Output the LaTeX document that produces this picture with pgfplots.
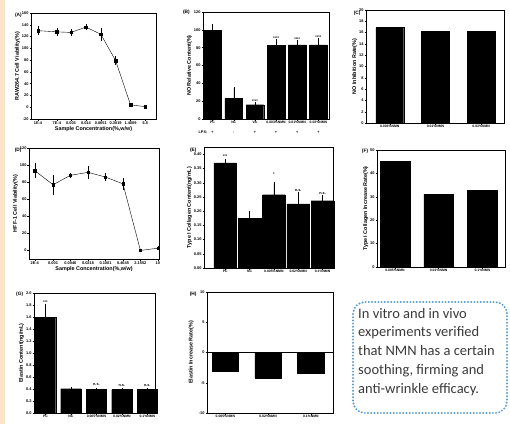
\documentclass[border=0pt]{standalone}
\usepackage{fontspec}
\setmainfont{Liberation Sans}
\newfontfamily\calibri{Carlito}
\usepackage{pgfplots}
\pgfplotsset{compat=1.18}
\definecolor{peach}{HTML}{FBE4C9}
\definecolor{boxblue}{HTML}{5B9BD5}
\definecolor{boxtext}{HTML}{3A3A3A}

\pgfplotsset{
  panel/.style={
    scale only axis, anchor=north west, clip=false,
    axis line style={line width=0.5pt, black},
    tick style={line width=0.4pt, black},
    major tick length=1.5pt, minor tick length=0.9pt,
    tick align=outside, tick pos=left,
    ticklabel style={font=\fontsize{3.9}{4}\selectfont\bfseries, inner sep=0.8pt},
    /pgf/number format/assume math mode=true,
    label style={font=\fontsize{5.4}{6}\selectfont\bfseries, inner sep=1pt},
  },
  nmnlab/.style={xticklabel style={font=\fontsize{3.4}{4}\selectfont\bfseries}},
  barp/.style={ybar, fill=black, draw=black, line width=0.3pt},
  errs/.style={error bars/.cd, y explicit, y dir=plus,
    error bar style={black, line width=0.4pt},
    error mark options={black, mark size=1.4pt, line width=0.4pt}},
}
\tikzset{
  sig/.style={font=\fontsize{3.8}{4}\selectfont\bfseries, inner sep=0pt},
  plab/.style={font=\fontsize{4.8}{5}\selectfont\bfseries, anchor=east, inner sep=0pt},
}

\begin{document}
\begin{tikzpicture}
\useasboundingbox (0,0) rectangle (510pt,-424pt);
\fill[peach] (0,0) rectangle (5pt,-424pt);

% (A)
\begin{axis}[panel, at={(31pt,-13pt)}, width=125pt, height=106pt,
  xmode=log, xmin=4.86e-5, xmax=19.4,
  xtick={1e-4,7e-4,0.003,0.014,0.0651,0.3019,1.4009,6.5},
  xticklabels={1E-4,7E-4,0.003,0.014,0.0651,0.3019,1.4009,6.5},
  xminorticks=false,
  ymin=-20, ymax=160, ytick={-20,0,...,160},
  xlabel={Sample Concentration(\%,w/w)},
  ylabel={RAW264.7 Cell Viability(\%)}]
\addplot[black, line width=0.4pt, mark=square*, mark size=1.2pt,
  error bars/.cd, y explicit, y dir=both,
  error bar style={black, line width=0.4pt},
  error mark options={black, mark size=1.4pt, line width=0.4pt}]
  coordinates {(1e-4,130) +- (0,5) (7e-4,128) +- (0,4) (0.003,127) +- (0,3)
  (0.014,136) +- (0,3) (0.0651,124) +- (0,9) (0.3019,79) +- (0,5)
  (1.4009,4) +- (0,0.5) (6.5,1) +- (0,0.5)};
\node[plab] at (rel axis cs:0,1) [xshift=-9pt, yshift=-2pt] {(A)};
\end{axis}

% (B)
\begin{axis}[panel, nmnlab, at={(203pt,-12pt)}, width=126pt, height=107pt,
  xmin=-0.45, xmax=5.5, xtick={0,...,5},
  xticklabels={PC,NC,VA,0.003\%NMN,0.01\%NMN,0.03\%NMN},
  ymin=0, ymax=120, ytick={0,20,...,120},
  ylabel={NO Relative Content(\%)}]
\addplot[barp, bar width=0.83, errs] coordinates {
  (0,99.5) +- (0,6) (1,23.4) +- (0,10.7) (2,16) +- (0,1)
  (3,82.8) +- (0,4.9) (4,83.2) +- (0,3.3) (5,83.2) +- (0,6.3)};
\node[sig] at (axis cs:2,20) {****};
\node[sig] at (axis cs:3,91) {****};
\node[sig] at (axis cs:4,90) {****};
\node[sig] at (axis cs:5,92) {****};
\node[sig] at (axis cs:0,0) [yshift=-13.5pt] {+};
\node[sig] at (axis cs:1,0) [yshift=-13.5pt] {-};
\node[sig] at (axis cs:2,0) [yshift=-13.5pt] {+};
\node[sig] at (axis cs:3,0) [yshift=-13.5pt] {+};
\node[sig] at (axis cs:4,0) [yshift=-13.5pt] {+};
\node[sig] at (axis cs:5,0) [yshift=-13.5pt] {+};
\node[sig, anchor=east] at (axis cs:0,0) [xshift=-5pt, yshift=-13.5pt] {LPS:};
\node[plab] at (rel axis cs:0,1) [xshift=-13pt, yshift=-0.7pt] {(B)};
\end{axis}

% (C)
\begin{axis}[panel, nmnlab, at={(366pt,-10pt)}, width=138pt, height=113pt,
  xmin=-0.52, xmax=2.5, xtick={0,1,2},
  xticklabels={0.003\%NMN,0.01\%NMN,0.03\%NMN},
  ymin=0, ymax=20, ytick={0,2,...,20},
  ylabel={NO Inhibition Rate(\%)}]
\addplot[barp, bar width=0.61] coordinates {(0,16.9) (1,16.2) (2,16.2)};
\node[plab] at (rel axis cs:0,1) [xshift=-5.3pt, yshift=-3.3pt] {(C)};
\end{axis}

% (D)
\begin{axis}[panel, at={(29pt,-148pt)}, width=130pt, height=111pt,
  xmode=log, xmin=1.21e-4, xmax=11,
  xtick={2e-4,0.001,0.0046,0.0216,0.1001,0.4645,2.1552,10},
  xticklabels={2E-4,0.001,0.0046,0.0216,0.1001,0.4645,2.1552,10},
  xminorticks=false,
  ymin=-10, ymax=120, ytick={0,20,...,120},
  xlabel={Sample Concentration(\%,w/w)},
  ylabel={HFF-1 Cell Viability(\%)}]
\addplot[black, line width=0.4pt, mark=square*, mark size=1.2pt,
  error bars/.cd, y explicit, y dir=both,
  error bar style={black, line width=0.4pt},
  error mark options={black, mark size=1.4pt, line width=0.4pt}]
  coordinates {(2e-4,93.5) +- (0,7) (0.001,77) +- (0,10) (0.0046,88) +- (0,1)
  (0.0216,91.5) +- (0,6) (0.1001,86) +- (0,3) (0.4645,78) +- (0,5)
  (2.1552,0) +- (0,0.5) (10,2.7) +- (0,0.5)};
\node[plab] at (rel axis cs:0,1) [xshift=-7.3pt, yshift=-2pt] {(D)};
\end{axis}

% (E)
\begin{axis}[panel, nmnlab, at={(204pt,-147pt)}, width=129pt, height=121pt,
  xmin=-0.87, xmax=4.43, xtick={0,...,4},
  xticklabels={PC,NC,0.005\%NMN,0.02\%NMN,0.1\%NMN},
  ymin=0, ymax=0.426, ytick={0,0.05,...,0.41},
  yticklabel style={/pgf/number format/.cd, fixed, fixed zerofill, precision=2},
  ylabel={Type I Collagen Content(ng/mL)}]
\addplot[barp, bar width=0.93, errs] coordinates {
  (0,0.37) +- (0,0.009) (1,0.176) +- (0,0.021) (2,0.258) +- (0,0.039)
  (3,0.226) +- (0,0.038) (4,0.237) +- (0,0.015)};
\node[sig] at (axis cs:0,0.392) {***};
\node[sig] at (axis cs:2,0.33) {*};
\node[sig] at (axis cs:3,0.273) {n.s.};
\node[sig] at (axis cs:4,0.262) {n.s.};
\node[plab] at (rel axis cs:0,1) [xshift=-7.3pt, yshift=-3.3pt] {(E)};
\end{axis}

% (F)
\begin{axis}[panel, nmnlab, at={(377pt,-150pt)}, width=128pt, height=117pt,
  xmin=-0.41, xmax=2.52, xtick={0,1,2},
  xticklabels={0.005\%NMN,0.02\%NMN,0.1\%NMN},
  ymin=0, ymax=50, ytick={0,10,...,50},
  ylabel={Type I Collagen Increase Rate(\%)}]
\addplot[barp, bar width=0.68] coordinates {(0,45.3) (1,31.1) (2,32.9)};
\node[plab] at (rel axis cs:0,1) [xshift=-8.7pt, yshift=-1.7pt] {(F)};
\end{axis}

% (G)
\begin{axis}[panel, nmnlab, at={(34pt,-293pt)}, width=121pt, height=120pt,
  xmin=-0.45, xmax=4.3, xtick={0,...,4},
  xticklabels={PC,NC,0.005\%NMN,0.02\%NMN,0.1\%NMN},
  ymin=0, ymax=2, ytick={0,0.2,...,2.01},
  yticklabel style={/pgf/number format/.cd, fixed, fixed zerofill, precision=1},
  ylabel={Elastin Content(ng/mL)}]
\addplot[barp, bar width=0.8, errs] coordinates {
  (0,1.6) +- (0,0.19) (1,0.405) +- (0,0.01) (2,0.39) +- (0,0.01)
  (3,0.39) +- (0,0.005) (4,0.39) +- (0,0.005)};
\node[sig] at (axis cs:0,1.84) {***};
\node[sig] at (axis cs:2,0.48) {n.s.};
\node[sig] at (axis cs:3,0.46) {n.s.};
\node[sig] at (axis cs:4,0.46) {n.s.};
\node[plab] at (rel axis cs:0,1) [xshift=-10.7pt, yshift=-1.7pt] {(G)};
\end{axis}

% (H)
\begin{axis}[panel, nmnlab, at={(207pt,-292pt)}, width=126pt, height=121pt,
  xmin=-0.43, xmax=2.52, xtick={0,1,2},
  xticklabels={0.005\%NMN,0.02\%NMN,0.1\%NMN},
  ymin=-10, ymax=10, ytick={-10,-5,0,5,10},
  extra y ticks={0}, extra y tick labels={},
  extra y tick style={grid=major, major grid style={black, line width=0.4pt}},
  ylabel={Elastin Increase Rate(\%)}]
\addplot[barp, bar width=0.62] coordinates {(0,-3.1) (1,-4.2) (2,-3.4)};
\node[plab] at (rel axis cs:0,1) [xshift=-10.3pt, yshift=-2.7pt] {(H)};
\end{axis}

% text box
\draw[boxblue, line width=2.2pt, line cap=round, dash pattern=on 0pt off 3.2pt,
  rounded corners=12pt] (353pt,-302pt) rectangle (507pt,-413pt);
\node[anchor=north west, inner sep=0pt, align=left, text=boxtext,
  font=\calibri\fontsize{14.5}{18.7}\selectfont] at (358pt,-308pt)
  {In vitro and in vivo\\experiments verified\\that NMN has a certain\\soothing, firming and\\anti-wrinkle efficacy.};
\end{tikzpicture}
\end{document}
